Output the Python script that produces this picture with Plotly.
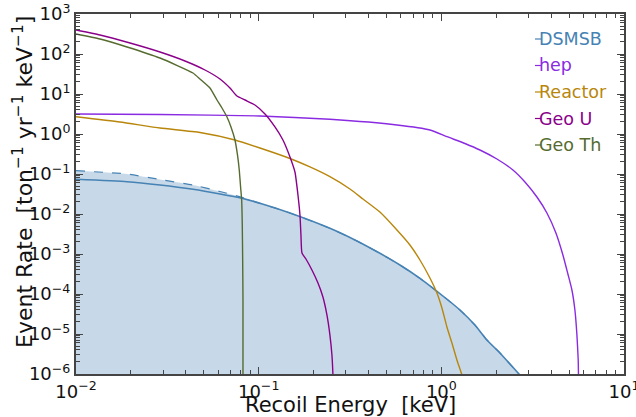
import plotly.graph_objects as go

# ---------------- data ----------------
geoU_x = [0.01, 0.01353, 0.01975, 0.02883, 0.0395, 0.05083, 0.06142, 0.06966, 0.07606, 0.08414,
          0.09544, 0.1083, 0.1228, 0.1358, 0.1484, 0.158, 0.1641, 0.1683, 0.1704, 0.1726, 0.1815,
          0.1957, 0.2112, 0.2248, 0.2364, 0.2455, 0.2518, 0.255, 0.2565]
geoU_y = [398, 298.5, 188, 112, 66.8, 39.8, 23.7, 14.1, 8.91, 7.08,
          5.31, 3.16, 1.50, 0.708, 0.266, 0.112, 0.0299, 0.00944, 0.00299, 0.00106, 7.5e-4,
          3.98e-4, 1.88e-4, 8.4e-5, 2.99e-5, 9.4e-6, 2.99e-6, 9.4e-7, 3e-7]

geoTh_x = [0.01, 0.01353, 0.01902, 0.02883, 0.04369, 0.04773, 0.05413, 0.05912, 0.06297, 0.06708,
           0.07055, 0.07418, 0.07656, 0.0783, 0.0797, 0.08072, 0.08133, 0.08174, 0.08206, 0.08206]
geoTh_y = [316, 237, 150, 79.4, 33.5, 23.7, 14.1, 7.08, 4.47, 2.66,
           1.50, 0.708, 0.299, 0.126, 0.0447, 0.0224, 0.00531, 7.08e-4, 7.08e-5, 3e-7]

reactor_x = [0.01, 0.0174, 0.02883, 0.04773, 0.07418, 0.1016, 0.1484, 0.1909, 0.2455, 0.316,
             0.3724, 0.4611, 0.5715, 0.6731, 0.7636, 0.8662, 0.9461, 1.0077, 1.073, 1.1429,
             1.2171, 1.2966, 1.3296]
reactor_y = [2.71, 2.0, 1.41, 1.09, 0.708, 0.447, 0.244, 0.150, 0.0856, 0.0422,
             0.0237, 0.0112, 0.00398, 0.00168, 7.08e-4, 2.51e-4, 1.06e-4, 4.47e-5, 1.5e-5, 5.96e-6,
             2.24e-6, 9.4e-7, 5.3e-7]

hep_x = [0.01, 0.02883, 0.1016, 0.2455, 0.5715, 0.8662, 1.073, 1.346, 1.627, 2.015, 2.465, 2.869,
         3.337, 3.785, 4.24, 4.63, 4.931, 5.186, 5.386, 5.524, 5.614, 5.643]
hep_y = [3.16, 3.07, 2.82, 2.33, 1.68, 1.26, 0.856, 0.579, 0.398, 0.237, 0.126, 0.0631,
         0.0266, 0.0106, 0.00335, 9.44e-4, 3.16e-4, 1.26e-4, 3.98e-5, 9.44e-6, 2.24e-6, 5.3e-7]

dsmsb_x = [0.01, 0.01902, 0.02883, 0.04369, 0.06142, 0.08072, 0.1016, 0.1484, 0.2455, 0.3366,
           0.4611, 0.5935, 0.7636, 1.087, 1.264, 1.527, 1.777, 2.093, 2.374, 2.693, 3.054]
dsmsb_y = [0.0737, 0.0642, 0.0531, 0.0414, 0.0316, 0.0247, 0.0185, 0.0106, 0.00439, 0.00224,
           0.00104, 5.31e-4, 2.47e-4, 7.08e-5, 3.98e-5, 1.68e-5, 7.08e-6, 3.35e-6, 1.78e-6, 9.4e-7, 5.0e-7]
dsmsb_upper_y = [0.121, 0.100, 0.0729, 0.0531, 0.0365, 0.0262, 0.0185, 0.0106, 0.00439, 0.00224,
                 0.00104, 5.31e-4, 2.47e-4, 7.08e-5, 3.98e-5, 1.68e-5, 7.08e-6, 3.35e-6, 1.78e-6, 9.4e-7, 5.0e-7]
baseline_y = [1e-8] * len(dsmsb_x)

legend_names = ["DSMSB", "hep", "Reactor", "Geo U", "Geo Th"]
x_title = "Recoil Energy&nbsp; [keV]"
y_title = "Event Rate&nbsp; [ton<sup>−1</sup> yr<sup>−1</sup> keV<sup>−1</sup>]"

x_ticks = [0.01, 0.1, 1, 10]
x_ticktext = ["10<sup>−2</sup>", "10<sup>−1</sup>", "10<sup>0</sup>", "10<sup>1</sup>"]
y_exps = list(range(-6, 4))
y_ticks = [10.0 ** e for e in y_exps]
y_ticktext = [("10<sup>−%d</sup>" % -e) if e < 0 else ("10<sup>%d</sup>" % e) for e in y_exps]

# ---------------- styles ----------------
C_DS = "#4682B4"
C_HEP = "#8A2BE2"
C_RE = "#B8860B"
C_GU = "#8B008B"
C_GT = "#556B2F"
colors = [C_DS, C_HEP, C_RE, C_GU, C_GT]
FONT = "DejaVu Sans"
SM = dict(shape="spline", smoothing=0.5)

fig = go.Figure()
fig.add_trace(go.Scatter(x=dsmsb_x, y=baseline_y, mode="lines", line=dict(width=0),
                         showlegend=False, hoverinfo="skip"))
fig.add_trace(go.Scatter(x=dsmsb_x, y=dsmsb_upper_y, mode="lines", fill="tonexty",
                         fillcolor="rgba(70,130,180,0.3)",
                         line=dict(color=C_DS, width=1.2, dash="dash", **SM), showlegend=False))
fig.add_trace(go.Scatter(x=dsmsb_x, y=dsmsb_y, mode="lines", line=dict(color=C_DS, width=1.6, **SM),
                         showlegend=False))
fig.add_trace(go.Scatter(x=hep_x, y=hep_y, mode="lines", line=dict(color=C_HEP, width=1.4, **SM),
                         showlegend=False))
fig.add_trace(go.Scatter(x=reactor_x, y=reactor_y, mode="lines", line=dict(color=C_RE, width=1.4, **SM),
                         showlegend=False))
fig.add_trace(go.Scatter(x=geoU_x, y=geoU_y, mode="lines", line=dict(color=C_GU, width=1.4, **SM),
                         showlegend=False))
fig.add_trace(go.Scatter(x=geoTh_x, y=geoTh_y, mode="lines", line=dict(color=C_GT, width=1.4, **SM),
                         showlegend=False))

W, H = 636, 417
ML, MR, MT, MB = 76, 12, 14, 43
pw, ph = W - ML - MR, H - MT - MB


def px(xs):
    return (xs - ML) / pw


def py(ys):
    return 1 - (ys - MT) / ph


for i, (name, col) in enumerate(zip(legend_names, colors)):
    yp = py(39 + i * 26.5)
    fig.add_annotation(x=px(537), y=yp, xref="paper", yref="paper", text=name,
                       showarrow=False, xanchor="left", yanchor="middle",
                       font=dict(family=FONT, size=17.5, color=col))
    fig.add_shape(type="line", xref="paper", yref="paper",
                  x0=px(535), x1=px(541), y0=yp, y1=yp,
                  line=dict(color=col, width=1.2))

# axis titles as annotations (exact placement)
fig.add_annotation(x=0.5, y=py(405), xref="paper", yref="paper", text=x_title,
                   showarrow=False, xanchor="center", yanchor="middle",
                   font=dict(family=FONT, size=21, color="#111"))
fig.add_annotation(x=px(23), y=py(182), xref="paper", yref="paper", text=y_title,
                   showarrow=False, xanchor="center", yanchor="middle", textangle=-90,
                   font=dict(family=FONT, size=22, color="#111"))

minor_x = [m * 10.0 ** e for e in (-2, -1, 0) for m in range(2, 10)]
minor_y = [m * 10.0 ** e for e in range(-6, 3) for m in range(2, 10)]

axis_common = dict(type="log", showgrid=False, zeroline=False, showline=True, automargin=False,
                   linecolor="#444", linewidth=2, mirror="allticks", ticks="inside",
                   ticklen=7, tickwidth=1.3, tickcolor="#444", ticklabeloverflow="allow",
                   tickfont=dict(family=FONT, size=18, color="#111"))

fig.update_xaxes(range=[-2, 1], tickvals=x_ticks, ticktext=x_ticktext,
                 minor=dict(tickvals=minor_x, ticks="inside", ticklen=4, tickwidth=1, tickcolor="#444"),
                 **axis_common)
fig.update_yaxes(range=[-6, 3], tickvals=y_ticks, ticktext=y_ticktext,
                 minor=dict(tickvals=minor_y, ticks="inside", ticklen=4, tickwidth=1, tickcolor="#444"),
                 **axis_common)

fig.update_layout(width=W, height=H, margin=dict(l=ML, r=MR, t=MT, b=MB),
                  plot_bgcolor="white", paper_bgcolor="white", showlegend=False,
                  font=dict(family=FONT))

# remove the browser's default 8px page margin so the figure fills the window; hide the modebar
fig.write_html("out.html", config={"displayModeBar": False},
               post_script="document.body.style.margin='0';")
